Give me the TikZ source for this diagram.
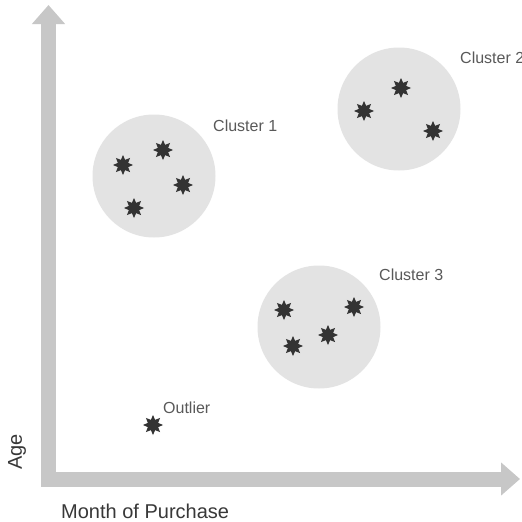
\documentclass[tikz,border=0pt]{standalone}
\usepackage{fontspec}
\setmainfont{Liberation Sans}
\usetikzlibrary{shapes.geometric,arrows.meta}
\colorlet{axisgray}{black!22}
\colorlet{blobgray}{black!11}
\colorlet{stargray}{black!80}
\colorlet{labelgray}{black!65}

\begin{document}
\begin{tikzpicture}[x=1pt,y=-1pt,
  axis/.style={draw=axisgray, line width=15pt, line join=miter,
    {Triangle[width=32pt,length=19pt]}-{Triangle[width=32pt,length=19pt]}},
  blob/.style={circle, fill=blobgray, minimum size=123pt, inner sep=0},
  point/.style={star, star points=8, star point ratio=1.8, fill=stargray,
    minimum size=20pt, inner sep=0},
  tag/.style={text=labelgray, font=\fontsize{16}{16}\selectfont, inner sep=0, anchor=west},
  axislabel/.style={text=black!78, font=\fontsize{20}{20}\selectfont, inner sep=0}]
\useasboundingbox[fill=white] (0,0) rectangle (522,522);
% axes
\coordinate (ytop) at (48.5,5);
\coordinate (xend) at (520,479);
\draw[axis] (ytop) |- (xend);
\node[axislabel, rotate=90] (age) at (17,452) {Age};
\node[axislabel, anchor=west] (month) at (61,511) {Month of Purchase};
% cluster 1
\node[blob] (blob1) at (154,176) {};
\node[point] (c1a) at (123,165) {};
\node[point] (c1b) at (163,150) {};
\node[point] (c1c) at (183,185) {};
\node[point] (c1d) at (134,208) {};
\node[tag] (tag1) at (213,126) {Cluster 1};
% cluster 2
\node[blob] (blob2) at (399,109) {};
\node[point] (c2a) at (364,111) {};
\node[point] (c2b) at (401,88) {};
\node[point] (c2c) at (433,131) {};
\node[tag] (tag2) at (460,58) {Cluster 2};
% cluster 3
\node[blob] (blob3) at (319,327) {};
\node[point] (c3a) at (284,310) {};
\node[point] (c3b) at (354,307) {};
\node[point] (c3c) at (328,335) {};
\node[point] (c3d) at (293,346) {};
\node[tag] (tag3) at (379,275) {Cluster 3};
% outlier
\node[point] (out) at (153,425) {};
\node[tag] (tagout) at (163,408) {Outlier};
\end{tikzpicture}
\end{document}
